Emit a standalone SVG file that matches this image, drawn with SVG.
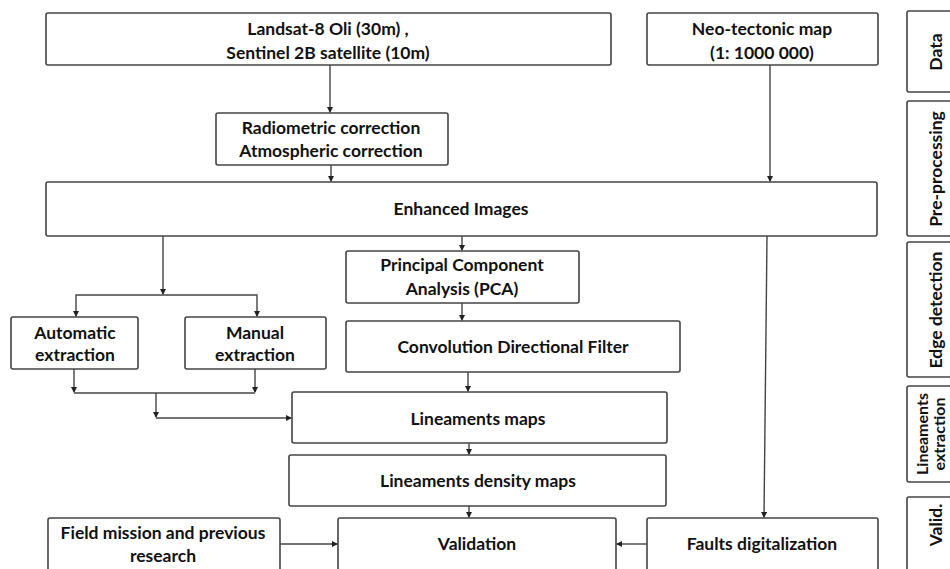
<svg xmlns="http://www.w3.org/2000/svg" width="950" height="569" viewBox="0 0 950 569">
<style>
.box{fill:#fff;stroke:#444;stroke-width:1.6}
.t{font-family:Lato,"Liberation Sans",sans-serif;font-weight:bold;font-size:17.5px;fill:#111;text-anchor:middle}
.s{font-size:16px}
.c{fill:none;stroke:#444;stroke-width:1.4}
</style>
<defs>
<marker id="a" markerWidth="6" markerHeight="6" refX="5" refY="3" orient="auto" markerUnits="userSpaceOnUse">
<path d="M0,0 L6,3 L0,6 Z" fill="#222"/>
</marker>
</defs>
<rect width="950" height="569" fill="#fff"/>
<g id="landsat"><rect class="box" x="46" y="13" width="565" height="52" rx="2"/>
<text class="t" x="328" y="35">Landsat-8 Oli (30m) ,</text>
<text class="t" x="328" y="59">Sentinel 2B satellite (10m)</text></g>
<g id="neotectonic"><rect class="box" x="647" y="13" width="231" height="52" rx="2"/>
<text class="t" x="762" y="35">Neo-tectonic map</text>
<text class="t" x="762" y="59">(1: 1000 000)</text></g>
<g id="radiometric"><rect class="box" x="216" y="113" width="232" height="52" rx="2"/>
<text class="t" x="331" y="134">Radiometric correction</text>
<text class="t" x="331" y="157">Atmospheric correction</text></g>
<g id="enhanced"><rect class="box" x="46" y="182" width="831" height="54" rx="2"/>
<text class="t" x="461" y="215">Enhanced Images</text></g>
<g id="pca"><rect class="box" x="346" y="251" width="233" height="52" rx="2"/>
<text class="t" x="462" y="271">Principal Component</text>
<text class="t" x="462" y="295">Analysis (PCA)</text></g>
<g id="convolution"><rect class="box" x="346" y="321" width="334" height="51" rx="2"/>
<text class="t" x="513" y="353">Convolution Directional Filter</text></g>
<g id="automatic"><rect class="box" x="11" y="317" width="127" height="52" rx="2"/>
<text class="t" x="75" y="339">Automatic</text>
<text class="t" x="75" y="361">extraction</text></g>
<g id="manual"><rect class="box" x="185" y="317" width="141" height="52" rx="2"/>
<text class="t" x="255" y="339">Manual</text>
<text class="t" x="255" y="361">extraction</text></g>
<g id="lineaments"><rect class="box" x="292" y="392" width="375" height="51" rx="2"/>
<text class="t" x="478" y="425">Lineaments maps</text></g>
<g id="density"><rect class="box" x="289" y="455" width="377" height="51" rx="2"/>
<text class="t" x="478" y="487">Lineaments density maps</text></g>
<g id="field"><rect class="box" x="48" y="518" width="232" height="70" rx="2"/>
<text class="t" x="163" y="539">Field mission and previous</text>
<text class="t" x="163" y="562">research</text></g>
<g id="validation"><rect class="box" x="338" y="518" width="278" height="70" rx="2"/>
<text class="t" x="477" y="550">Validation</text></g>
<g id="faults"><rect class="box" x="647" y="518" width="231" height="70" rx="2"/>
<text class="t" x="762" y="550">Faults digitalization</text></g>
<g id="stage-data"><rect class="box" x="907" y="11" width="60" height="81" rx="2"/>
<text class="t" transform="translate(936,52) rotate(-90)" dy="6">Data</text></g>
<g id="stage-pre"><rect class="box" x="907" y="101" width="60" height="135" rx="2"/>
<text class="t" transform="translate(936,169) rotate(-90)" dy="6">Pre-processing</text></g>
<g id="stage-edge"><rect class="box" x="907" y="242" width="60" height="135" rx="2"/>
<text class="t" transform="translate(936,310) rotate(-90)" dy="6">Edge detection</text></g>
<g id="stage-lin"><rect class="box" x="907" y="386" width="60" height="96" rx="2"/>
<text class="t s" transform="translate(922,434) rotate(-90)" dy="6">Lineaments</text>
<text class="t s" transform="translate(939,434) rotate(-90)" dy="6">extraction</text></g>
<g id="stage-valid"><rect class="box" x="907" y="497" width="60" height="90" rx="2"/>
<text class="t" transform="translate(936,525) rotate(-90)" dy="6">Valid.</text></g>
<g id="connectors">
<path class="c" d="M330,65 V112" marker-end="url(#a)"/>
<path class="c" d="M331,165 V181" marker-end="url(#a)"/>
<path class="c" d="M770,65 V181" marker-end="url(#a)"/>
<path class="c" d="M767,236 L764,517" marker-end="url(#a)"/>
<path class="c" d="M462,236 V250" marker-end="url(#a)"/>
<path class="c" d="M462,303 V320" marker-end="url(#a)"/>
<path class="c" d="M468,372 V391" marker-end="url(#a)"/>
<path class="c" d="M469,443 V454" marker-end="url(#a)"/>
<path class="c" d="M469,506 V517" marker-end="url(#a)"/>
<path class="c" d="M163,236 V294" marker-end="url(#a)"/>
<path class="c" d="M163,295 H76 V316" marker-end="url(#a)"/>
<path class="c" d="M163,295 H257 V316" marker-end="url(#a)"/>
<path class="c" d="M74,369 V392" marker-end="url(#a)"/>
<path class="c" d="M255,369 V392" marker-end="url(#a)"/>
<path class="c" d="M74,393 H255"/>
<path class="c" d="M156,393 V417" marker-end="url(#a)"/>
<path class="c" d="M156,418 H291" marker-end="url(#a)"/>
<path class="c" d="M280,544 H337" marker-end="url(#a)"/>
<path class="c" d="M647,544 H617" marker-end="url(#a)"/>
</g>
</svg>
